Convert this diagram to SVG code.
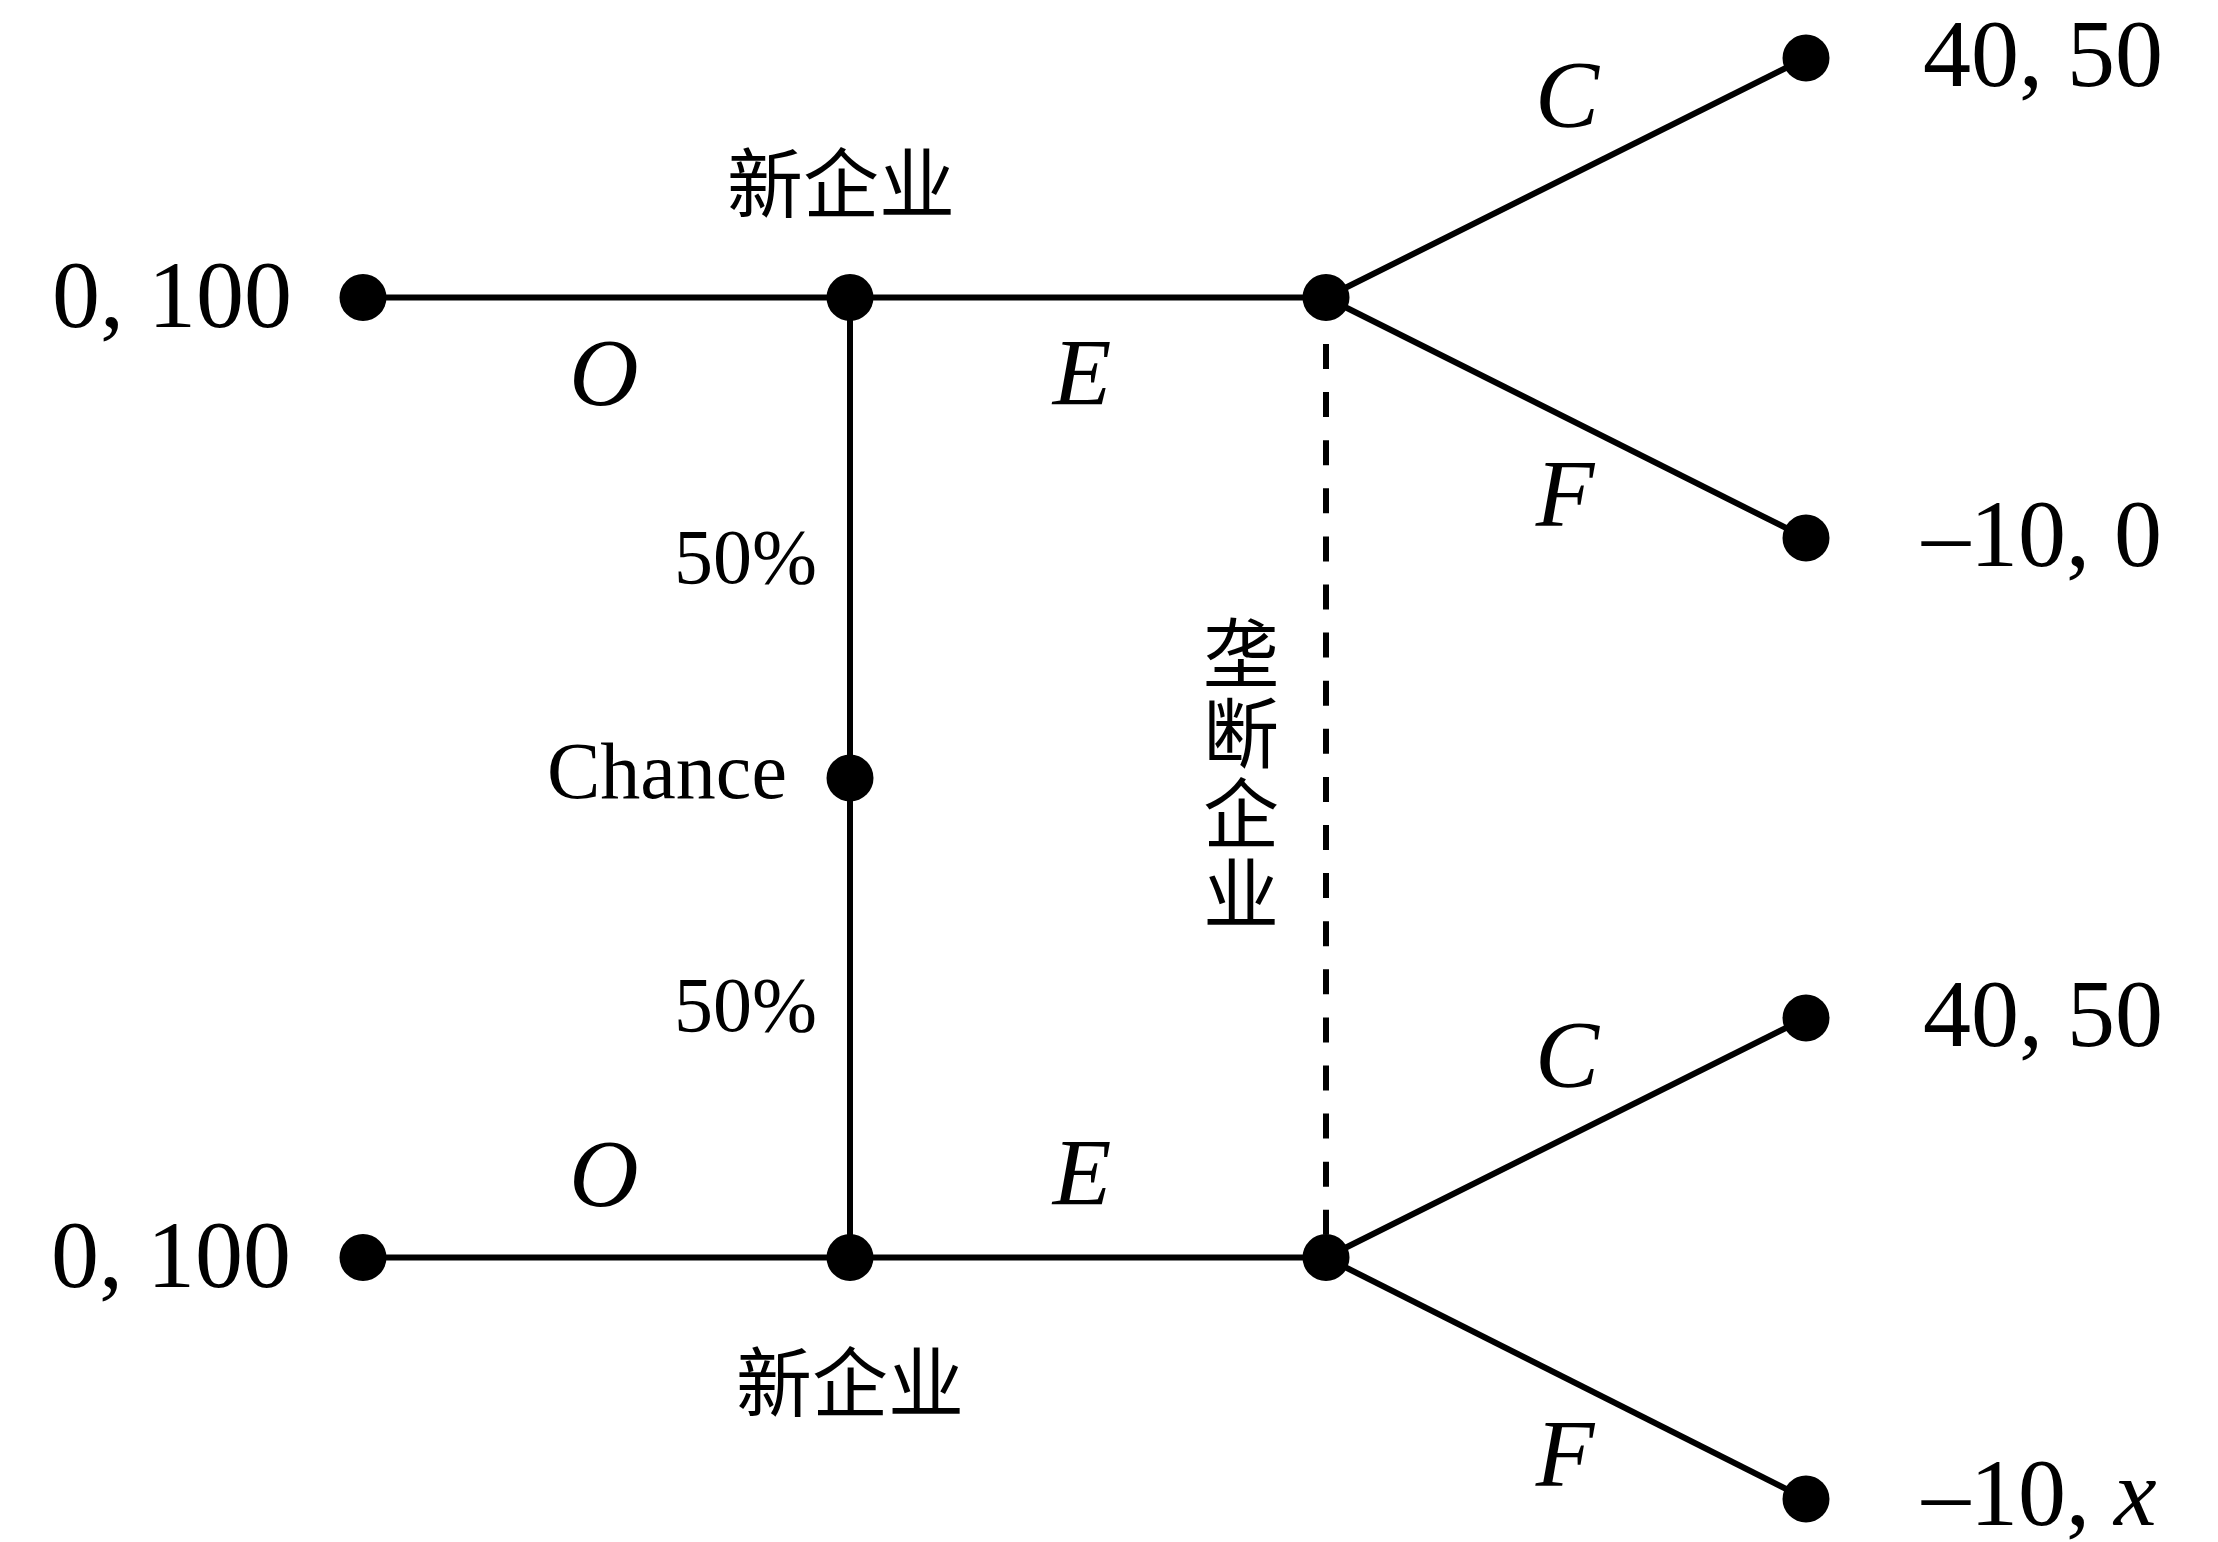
<svg xmlns="http://www.w3.org/2000/svg" width="2218" height="1542" viewBox="0 0 2218 1542">
<style>
.edge{stroke:#000;stroke-width:6;fill:none}
.dash{stroke:#000;stroke-width:6;fill:none;stroke-dasharray:25 23.1}
.dot{fill:#000}
.t{font-family:"Liberation Serif","Noto Sans CJK SC",serif;font-size:96px;fill:#000}
.it{font-style:italic}
.s{font-size:78px}
.cjk{font-family:"Liberation Serif","Noto Sans CJK SC",serif;font-size:76px;fill:#000}
</style>
<rect width="2218" height="1542" fill="#fff"/>
<g id="connectors">
<line class="edge" x1="363" y1="297.5" x2="1326" y2="297.5"/>
<line class="edge" x1="363" y1="1257.5" x2="1326" y2="1257.5"/>
<line class="edge" x1="850" y1="297.5" x2="850" y2="1257.5"/>
<line class="edge" x1="1326" y1="297.5" x2="1806" y2="58"/>
<line class="edge" x1="1326" y1="297.5" x2="1806" y2="538"/>
<line class="edge" x1="1326" y1="1257.5" x2="1806" y2="1018"/>
<line class="edge" x1="1326" y1="1257.5" x2="1806" y2="1499"/>
<line class="dash" x1="1326" y1="344" x2="1326" y2="1240"/>
<text class="t it" x="604" y="405" text-anchor="middle">O</text>
<text class="t it" x="604" y="1206" text-anchor="middle">O</text>
<text class="t it" x="1082" y="405" text-anchor="middle">E</text>
<text class="t it" x="1082" y="1205" text-anchor="middle">E</text>
<text class="t it" x="1567" y="127" text-anchor="middle">C</text>
<text class="t it" x="1565" y="526" text-anchor="middle">F</text>
<text class="t it" x="1567" y="1087" text-anchor="middle">C</text>
<text class="t it" x="1565" y="1486" text-anchor="middle">F</text>
<text class="t s" x="817" y="583" text-anchor="end">50%</text>
<text class="t s" x="817" y="1031" text-anchor="end">50%</text>
</g>
<g id="payoff-top-left"><circle class="dot" cx="363" cy="297.5" r="23.5"/><text class="t" x="52" y="327">0, 100</text></g>
<g id="newfirm-top"><circle class="dot" cx="850" cy="297.5" r="23.5"/><text class="cjk" x="841" y="212" text-anchor="middle">新企业</text></g>
<g id="monopoly-top"><circle class="dot" cx="1326" cy="297.5" r="23.5"/></g>
<g id="chance"><circle class="dot" cx="850" cy="778" r="23.5"/><text class="t" style="font-size:80px" x="547" y="798">Chance</text></g>
<g id="payoff-bottom-left"><circle class="dot" cx="363" cy="1257.5" r="23.5"/><text class="t" x="51" y="1287">0, 100</text></g>
<g id="newfirm-bottom"><circle class="dot" cx="850" cy="1257.5" r="23.5"/><text class="cjk" x="850" y="1411" text-anchor="middle">新企业</text></g>
<g id="monopoly-bottom"><circle class="dot" cx="1326" cy="1257.5" r="23.5"/></g>
<g id="monopoly-label"><text class="cjk" text-anchor="middle"><tspan x="1241" y="682">垄</tspan><tspan x="1241" y="762">断</tspan><tspan x="1241" y="842">企</tspan><tspan x="1241" y="922">业</tspan></text></g>
<g id="payoff-1"><circle class="dot" cx="1806" cy="58" r="23.5"/><text class="t" x="1923" y="86">40, 50</text></g>
<g id="payoff-2"><circle class="dot" cx="1806" cy="538" r="23.5"/><text class="t" x="1922" y="566">–10, 0</text></g>
<g id="payoff-3"><circle class="dot" cx="1806" cy="1018" r="23.5"/><text class="t" x="1923" y="1046">40, 50</text></g>
<g id="payoff-4"><circle class="dot" cx="1806" cy="1499" r="23.5"/><text class="t" x="1922" y="1525">–10, <tspan class="it">x</tspan></text></g>
</svg>
